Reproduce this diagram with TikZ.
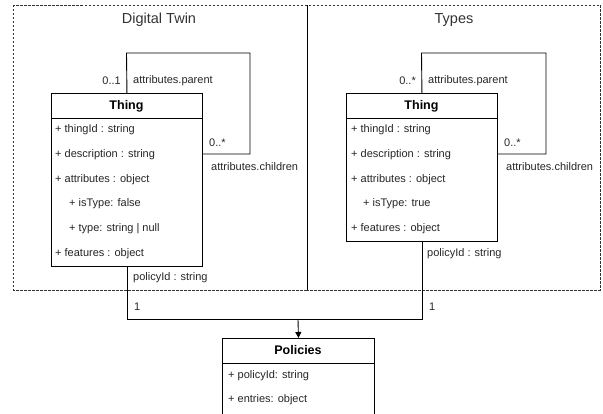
\documentclass[tikz,border=0pt]{standalone}
\usepackage{fontspec}
\setmainfont{Liberation Sans}
\usetikzlibrary{arrows.meta}
\begin{document}
\begin{tikzpicture}[x=1pt,y=-1pt,
  ln/.style={draw=black,line width=0.9pt},
  frame/.style={draw=black!80,line width=0.8pt,dash pattern=on 2.5pt off 1.5pt},
  box/.style={draw=black,line width=0.9pt,fill=white,rectangle,inner sep=0pt,anchor=north west},
  txt/.style={inner sep=0pt,anchor=west,font=\fontsize{11}{13}\selectfont,text=black!85},
  ttl/.style={inner sep=0pt,font=\fontsize{14.5}{17}\selectfont,text=black!80},
  hdr/.style={inner sep=0pt,font=\fontsize{12.5}{15}\selectfont\bfseries},
  arr/.style={ln,-{Triangle[length=6pt,width=6pt]}}]
\path[use as bounding box] (0,0) rectangle (603,414);
\clip (0,0) rectangle (603,414);
% frames
\draw[frame] (13,5) rectangle (307,290);
\draw[frame] (307,5) rectangle (600,290);
\draw[ln,line width=0.6pt] (307,5) -- (307,290);
\node[ttl] (tDT) at (159,20) {Digital Twin};
\node[ttl] (tTy) at (454,20) {Types};
% left Thing
\node[box,minimum width=151pt,minimum height=173pt] (tL) at (51,93) {};
\draw[ln] (51,118) -- (202,118);
\node[hdr] (hL) at (126.5,106) {Thing};
\node[txt] (l1) at (55,130) {+ thingId : string};
\node[txt] (l2) at (55,155) {+ description : string};
\node[txt] (l3) at (55,180) {+ attributes : object};
\node[txt] (l4) at (69,204) {+ isType: false};
\node[txt] (l5) at (69,229) {+ type: string | null};
\node[txt] (l6) at (55,254) {+ features : object};
\coordinate (lA) at (126.5,53);
\coordinate (lB) at (250,53);
\coordinate (lC) at (250,154);
\coordinate (lD) at (202,154);
\draw[ln] (tL.north) -- (lA) -- (lB) -- (lC) -- (lD);
\node[txt,anchor=east] (lm1) at (121,81) {0..1};
\node[txt] (lp) at (133,81) {attributes.parent};
\node[txt] (lm2) at (209,143) {0..*};
\node[txt] (lc) at (211,167) {attributes.children};
\node[txt] (lpol) at (133,278) {policyId : string};
% right Thing
\node[box,minimum width=151pt,minimum height=148pt] (tR) at (346,93) {};
\draw[ln] (346,118) -- (497,118);
\node[hdr] (hR) at (421.5,106) {Thing};
\node[txt] (r1) at (351,130) {+ thingId : string};
\node[txt] (r2) at (351,155) {+ description : string};
\node[txt] (r3) at (351,180) {+ attributes : object};
\node[txt] (r4) at (363,204) {+ isType: true};
\node[txt] (r6) at (351,229) {+ features : object};
\coordinate (rA) at (421.5,53);
\coordinate (rB) at (546,53);
\coordinate (rC) at (546,154);
\coordinate (rD) at (497,154);
\draw[ln] (tR.north) -- (rA) -- (rB) -- (rC) -- (rD);
\node[txt,anchor=east] (rm1) at (416,81) {0..*};
\node[txt] (rp) at (428,81) {attributes.parent};
\node[txt] (rm2) at (504,143) {0..*};
\node[txt] (rc) at (506,167) {attributes.children};
\node[txt] (rpol) at (427,254) {policyId : string};
% Policies
\node[box,minimum width=152pt,minimum height=100pt] (pol) at (222,338) {};
\draw[ln] (222,363) -- (374,363);
\node[hdr] (hP) at (298,350.5) {Policies};
\node[txt] (p1) at (228,376) {+ policyId: string};
\node[txt] (p2) at (228,400) {+ entries: object};
% connectors
\coordinate (jn) at (298,319);
\draw[ln] (tL.south) |- (jn);
\draw[ln] (tR.south) |- (jn);
\draw[arr] (jn) -- (pol.north);
\node[txt] (one1) at (134,307) {1};
\node[txt] (one2) at (429,307) {1};
\end{tikzpicture}
\end{document}
